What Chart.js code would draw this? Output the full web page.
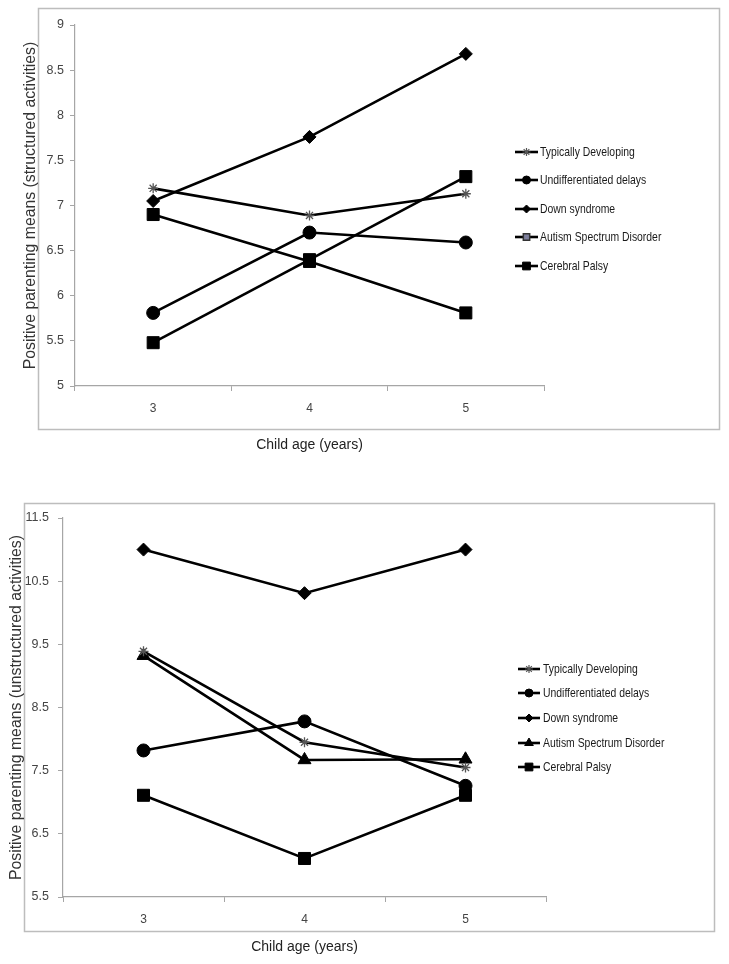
<!DOCTYPE html>
<html><head><meta charset="utf-8">
<script src="https://cdn.jsdelivr.net/npm/chart.js@4.4.1/dist/chart.umd.min.js"></script>
<style>
html,body{margin:0;padding:0;background:#fff;}
#wrap{position:relative;width:729px;height:964px;overflow:hidden;}
.box{position:absolute;left:0;width:729px;}
</style></head><body>
<div id="wrap">
  <div class="box" style="top:0;height:480px"><canvas id="c1" width="729" height="480"></canvas></div>
  <div class="box" style="top:480px;height:484px"><canvas id="c2" width="729" height="484"></canvas></div>
</div>
<script>
// ---------- data ----------
const ages = ['3', '4', '5'];
const seriesNames = ['Typically Developing', 'Undifferentiated delays', 'Down syndrome', 'Autism Spectrum Disorder', 'Cerebral Palsy'];

// structured activities (top chart)
const structTD  = [7.19, 6.89, 7.13];
const structUD  = [5.81, 6.70, 6.59];
const structDS  = [7.05, 7.76, 8.68];
const structASD = [5.48, 6.40, 7.32];
const structCP  = [6.90, 6.38, 5.81];
const structYTicks = [5, 5.5, 6, 6.5, 7, 7.5, 8, 8.5, 9];
const structYTickLabels = ['5', '5.5', '6', '6.5', '7', '7.5', '8', '8.5', '9'];

// unstructured activities (bottom chart)
const unstructTD  = [9.39, 7.95, 7.55];
const unstructUD  = [7.82, 8.28, 7.26];
const unstructDS  = [11.0, 10.31, 11.0];
const unstructASD = [9.32, 7.67, 7.68];
const unstructCP  = [7.11, 6.11, 7.11];
const unstructYTicks = [5.5, 6.5, 7.5, 8.5, 9.5, 10.5, 11.5];
const unstructYTickLabels = ['5.5', '6.5', '7.5', '8.5', '9.5', '10.5', '11.5'];

const xTitle = 'Child age (years)';
const yTitleTop = 'Positive parenting means (structured activities)';
const yTitleBottom = 'Positive parenting means (unstructured activities)';

// ---------- styles ----------
const SANS = "'Liberation Sans', Arial, sans-serif";
const AXIS = '#a6a6a6';

const markerStyles = [
  {pointStyle: 'star',    radius: 5,   fill: '#555', stroke: '#555', bw: 1.3, lm: {style: 'star', radius: 4, fill: '#555', stroke: '#555', bw: 1.2}},
  {pointStyle: 'circle',  radius: 6.5, fill: '#000', stroke: '#000', bw: 1,   lm: {style: 'circle', radius: 4, fill: '#000', stroke: '#000', bw: 1}},
  {pointStyle: 'rectRot', radius: 6.5, fill: '#000', stroke: '#000', bw: 1,   lm: {style: 'rectRot', radius: 4, fill: '#000', stroke: '#000', bw: 1}},
  {pointStyle: 'rect',    radius: 8.5, fill: '#000', stroke: '#000', bw: 1,   lm: {style: 'rect', radius: 5, fill: '#000', stroke: '#000', bw: 1}},
  {pointStyle: 'rect',    radius: 8.5, fill: '#000', stroke: '#000', bw: 1,   lm: {style: 'rect', radius: 5.5, fill: '#000', stroke: '#000', bw: 1}}
];

function makeDatasets(valuesList, asdStyle, asdLegend) {
  return valuesList.map((vals, i) => {
    let m = markerStyles[i];
    if (i === 3) m = Object.assign({}, m, asdStyle, {lm: asdLegend});
    return {
      label: seriesNames[i],
      data: vals,
      borderColor: '#000',
      borderWidth: 2.6,
      backgroundColor: '#000',
      pointStyle: m.pointStyle,
      pointRadius: m.radius,
      pointHoverRadius: m.radius,
      pointBackgroundColor: m.fill,
      pointBorderColor: m.stroke,
      pointBorderWidth: m.bw,
      tension: 0,
      fill: false,
      legendMarker: m.lm
    };
  });
}

const framePlugin = {
  id: 'frame',
  beforeDraw(chart, args, o) {
    const ctx = chart.ctx;
    ctx.save();
    ctx.strokeStyle = o.color;
    ctx.lineWidth = o.width;
    ctx.strokeRect(o.x, o.y, o.w, o.h);
    ctx.restore();
  }
};

const legendPlugin = {
  id: 'manualLegend',
  afterDraw(chart, args, o) {
    const ctx = chart.ctx;
    ctx.save();
    chart.data.datasets.forEach((ds, i) => {
      const y = o.rows[i];
      ctx.strokeStyle = '#000';
      ctx.lineWidth = 2.6;
      ctx.beginPath();
      ctx.moveTo(o.x0, y);
      ctx.lineTo(o.x1, y);
      ctx.stroke();
      const m = ds.legendMarker;
      ctx.fillStyle = m.fill;
      ctx.strokeStyle = m.stroke;
      ctx.lineWidth = m.bw;
      Chart.helpers.drawPoint(ctx, {pointStyle: m.style, radius: m.radius, borderWidth: m.bw, rotation: 0}, (o.x0 + o.x1) / 2, y);
      // condensed text (Calibri-like width)
      ctx.save();
      ctx.translate(o.tx, y);
      ctx.scale(o.squeeze, 1);
      ctx.fillStyle = '#1a1a1a';
      ctx.font = o.font;
      ctx.textAlign = 'left';
      ctx.textBaseline = 'middle';
      ctx.fillText(ds.label, 0, 0);
      ctx.restore();
    });
    ctx.restore();
  }
};

function buildChart(id, cfg) {
  return new Chart(document.getElementById(id), {
    type: 'line',
    data: {labels: ages, datasets: cfg.datasets},
    plugins: [framePlugin, legendPlugin],
    options: {
      responsive: false,
      animation: false,
      devicePixelRatio: 1,
      layout: {padding: cfg.padding},
      plugins: {
        legend: {display: false},
        tooltip: {enabled: false},
        frame: cfg.frame,
        manualLegend: cfg.legend
      },
      scales: {
        x: {
          type: 'category',
          offset: true,
          grid: {display: true, drawOnChartArea: false, drawTicks: true, tickLength: 5, color: AXIS, offset: true},
          border: {display: true, color: AXIS, width: 1.2},
          ticks: {color: '#444', font: {family: SANS, size: 12}, padding: cfg.xTickPad, maxRotation: 0},
          title: {display: true, text: xTitle, color: '#222', font: {family: SANS, size: 14}, padding: 0},
          afterFit: s => { s.height = cfg.xHeight; }
        },
        y: {
          min: cfg.yTicks[0],
          max: cfg.yTicks[cfg.yTicks.length - 1],
          grid: {display: true, drawOnChartArea: false, drawTicks: true, tickLength: 5, color: AXIS},
          border: {display: true, color: AXIS, width: 1.2},
          afterBuildTicks: s => { s.ticks = cfg.yTicks.map(v => ({value: v})); },
          ticks: {
            color: '#444',
            font: {family: SANS, size: 12.5},
            padding: cfg.yTickPad,
            callback: (v) => cfg.yLabels[cfg.yTicks.indexOf(v)]
          },
          title: {display: true, text: cfg.yTitle, color: '#333', font: {family: SANS, size: 15.8}, padding: 0},
          afterFit: s => { s.width = cfg.yWidth; }
        }
      }
    }
  });
}

buildChart('c1', {
  datasets: makeDatasets([structTD, structUD, structDS, structASD, structCP],
    {pointStyle: 'rect', radius: 8.5, fill: '#000', stroke: '#000', bw: 1},
    {style: 'rect', radius: 4.5, fill: '#7d7f9c', stroke: '#333', bw: 1.5}),
  padding: {left: 21, top: 25, right: 185, bottom: 26},
  yWidth: 54,
  xHeight: 68,
  xTickPad: 10,
  yTickPad: 6,
  yTicks: structYTicks,
  yLabels: structYTickLabels,
  yTitle: yTitleTop,
  frame: {x: 38.5, y: 8.5, w: 681, h: 421, color: '#bdbdbd', width: 1.5},
  legend: {x0: 515, x1: 538, tx: 540, rows: [152, 180, 209, 237, 266], font: '13px ' + SANS, squeeze: 0.8}
});

buildChart('c2', {
  datasets: makeDatasets([unstructTD, unstructUD, unstructDS, unstructASD, unstructCP],
    {pointStyle: 'triangle', radius: 7.5, fill: '#000', stroke: '#000', bw: 1},
    {style: 'triangle', radius: 5, fill: '#000', stroke: '#000', bw: 1}),
  padding: {left: 7, top: 38, right: 183, bottom: 8},
  yWidth: 56,
  xHeight: 59,
  xTickPad: 10,
  yTickPad: 9,
  yTicks: unstructYTicks,
  yLabels: unstructYTickLabels,
  yTitle: yTitleBottom,
  frame: {x: 24.5, y: 23.5, w: 690, h: 428, color: '#bdbdbd', width: 1.5},
  legend: {x0: 518, x1: 540, tx: 543, rows: [669 - 480, 693 - 480, 718 - 480, 743 - 480, 767 - 480], font: '13px ' + SANS, squeeze: 0.8}
});
</script>
</body></html>
